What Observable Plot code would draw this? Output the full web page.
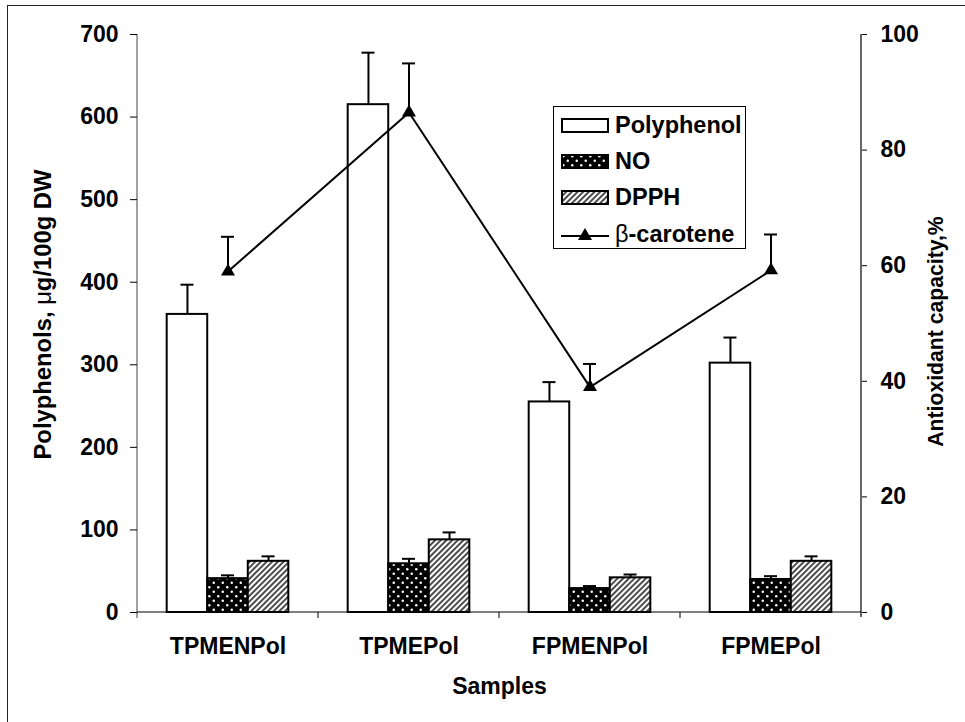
<!DOCTYPE html>
<html>
<head>
<meta charset="utf-8">
<script src="https://cdn.jsdelivr.net/npm/d3@7"></script>
<script src="https://cdn.jsdelivr.net/npm/@observablehq/plot@0.6"></script>
<style>
  body { margin: 0; background: #fff; font-family: "Liberation Sans", Arial, sans-serif; }
  #wrap { position: relative; width: 965px; height: 722px; overflow: hidden; background: #fff; }
  #chart { position: absolute; left: 0; top: 0; }
  #border { position: absolute; left: 7px; top: 5px; width: 2000px; height: 2000px; border: 1.5px solid #222; pointer-events: none; }
  #legend { position: absolute; left: 553px; top: 106px; width: 193px; height: 143px; border: 1.5px solid #000; background: #fff; box-sizing: border-box; padding-top: 0px; }
  .row { display: flex; align-items: center; height: 36.3px; font-weight: bold; font-size: 23.5px; color: #000; }
  .row svg { margin-left: 7px; margin-right: 6px; flex: none; }
  .reg { font-weight: normal; }
</style>
</head>
<body>
<svg width="0" height="0" style="position:absolute">
  <defs>
    <pattern id="dots" width="9" height="9" patternUnits="userSpaceOnUse">
      <rect width="9" height="9" fill="#000"/>
      <circle cx="2.25" cy="2.25" r="1.25" fill="#fff"/>
      <circle cx="6.75" cy="6.75" r="1.25" fill="#fff"/>
    </pattern>
    <pattern id="hatch" width="4" height="4" patternUnits="userSpaceOnUse" patternTransform="rotate(45)">
      <rect width="4" height="4" fill="#fff"/>
      <line x1="1" y1="0" x2="1" y2="4" stroke="#000" stroke-width="1.4"/>
    </pattern>
  </defs>
</svg>
<div id="wrap">
  <div id="chart"></div>
  <div id="border"></div>
  <div id="legend">
    <div class="row"><svg width="48" height="15"><rect x="1" y="1" width="46" height="13" fill="#fff" stroke="#000" stroke-width="2"/></svg>Polyphenol</div>
    <div class="row"><svg width="48" height="15"><rect x="1" y="1" width="46" height="13" fill="url(#dots)" stroke="#000" stroke-width="2"/></svg>NO</div>
    <div class="row"><svg width="48" height="15"><rect x="1" y="1" width="46" height="13" fill="url(#hatch)" stroke="#000" stroke-width="2"/></svg>DPPH</div>
    <div class="row"><svg width="48" height="16"><line x1="0" y1="10" x2="48" y2="10" stroke="#000" stroke-width="2"/><path d="M24,2 L31,14 L17,14 Z" fill="#000"/></svg><span><span class="reg">β</span>-carotene</span></div>
  </div>
</div>
<script>
// ---- data ----
const categories = ["TPMENPol", "TPMEPol", "FPMENPol", "FPMEPol"];
const seriesNames = ["Polyphenol", "NO", "DPPH"];
const polyphenol = [361, 615, 255, 302];
const polyphenolErr = [36, 63, 24, 31];
const no = [41, 59, 29, 40];
const noErr = [4, 6, 3, 4];
const dpph = [62, 88, 42, 62];
const dpphErr = [6, 9, 4, 6];
const betaCarotene = [59, 86.5, 39, 59.2];
const betaCaroteneErr = [6, 8.5, 4, 6.2];
const leftTicks = [0, 100, 200, 300, 400, 500, 600, 700];
const rightTicks = [0, 20, 40, 60, 80, 100];

// ---- layout ----
const W = 965, H = 722, ML = 137, MR = 104, MT = 34, MB = 110;
const k = 700 / 100; // right axis (0-100 %) mapped onto left axis (0-700)
const bw = (W - ML - MR) / categories.length;
const barW = bw * 0.224;
const ins = (bw - barW) / 2;
const capIns = (bw - 13) / 2;

const seriesVals = [polyphenol, no, dpph];
const seriesErr = [polyphenolErr, noErr, dpphErr];
const fills = ["white", "url(#dots)", "url(#hatch)"];

const marks = [];
seriesNames.forEach((s, j) => {
  const rows = categories.map((c, i) => ({cat: c, v: seriesVals[j][i], e: seriesErr[j][i]}));
  const dx = (j - 1) * barW;
  marks.push(Plot.barY(rows, {x: "cat", y: "v", dx, insetLeft: ins, insetRight: ins, fill: fills[j], stroke: "black", strokeWidth: 2}));
  marks.push(Plot.ruleX(rows, {x: "cat", y1: "v", y2: d => d.v + d.e, dx, stroke: "black", strokeWidth: 2}));
  marks.push(Plot.tickY(rows, {x: "cat", y: d => d.v + d.e, dx, insetLeft: capIns, insetRight: capIns, stroke: "black", strokeWidth: 2}));
});

const betaRows = categories.map((c, i) => ({cat: c, v: betaCarotene[i], e: betaCaroteneErr[i]}));

function axisLines(index, scales, values, dims) {
  const g = d3.create("svg:g").attr("stroke", "black").attr("fill", "none");
  const x0 = dims.marginLeft, x1 = dims.width - dims.marginRight;
  const y0 = dims.marginTop, yb = dims.height - dims.marginBottom;
  g.append("line").attr("x1", x0).attr("x2", x0).attr("y1", y0).attr("y2", yb + 6).attr("stroke-width", 1).attr("stroke", "#444");
  g.append("line").attr("x1", x1).attr("x2", x1).attr("y1", y0).attr("y2", yb + 5).attr("stroke-width", 1.2);
  g.append("line").attr("x1", x0).attr("x2", x1).attr("y1", yb).attr("y2", yb).attr("stroke-width", 1.2);
  categories.slice(1).forEach(c => {
    const x = scales.x(c);
    g.append("line").attr("x1", x).attr("x2", x).attr("y1", yb).attr("y2", yb + 6).attr("stroke-width", 1);
  });
  return g.node();
}

const chart = Plot.plot({
  width: W, height: H,
  marginLeft: ML, marginRight: MR, marginTop: MT, marginBottom: MB,
  style: {fontFamily: "'Liberation Sans', Arial, sans-serif", fontSize: "23px", fontWeight: "bold", color: "black", background: "transparent", overflow: "visible"},
  x: {domain: categories, padding: 0},
  y: {domain: [0, 700]},
  marks: [
    axisLines,
    ...marks,
    Plot.line(betaRows, {x: "cat", y: d => d.v * k, stroke: "black", strokeWidth: 2}),
    Plot.ruleX(betaRows, {x: "cat", y1: d => d.v * k, y2: d => (d.v + d.e) * k, stroke: "black", strokeWidth: 2}),
    Plot.tickY(betaRows, {x: "cat", y: d => (d.v + d.e) * k, insetLeft: capIns, insetRight: capIns, stroke: "black", strokeWidth: 2}),
    Plot.dot(betaRows, {x: "cat", y: d => d.v * k, symbol: "triangle", r: 5.2, fill: "black", stroke: "none"}),
    Plot.axisY(leftTicks, {anchor: "left", tickSize: 7, tickPadding: 12, label: "Polyphenols, μg/100g DW", labelAnchor: "center", labelOffset: 103, labelArrow: "none"}),
    Plot.axisY(rightTicks.map(t => t * k), {anchor: "right", tickSize: 5, tickPadding: 14, tickFormat: d => d / k, label: "Antioxidant capacity,%", labelAnchor: "center", labelOffset: 81, labelArrow: "none"}),
    Plot.axisX({tickSize: 0, tickPadding: 25, label: "Samples", labelAnchor: "center", labelOffset: 81, labelArrow: "none"})
  ]
});

document.getElementById("chart").appendChild(chart);

// axis title styling (regular-weight Greek letter, sizes and centring as in the reference)
d3.select(chart).selectAll('g[aria-label="y-axis label"] text').each(function() {
  const t = d3.select(this);
  const s = t.text();
  const m = s.indexOf("μ");
  if (m >= 0) {
    t.style("font-size", "23.8px").attr("dx", 9);
    t.text(null);
    t.append("tspan").text(s.slice(0, m));
    t.append("tspan").style("font-weight", "normal").text("μ");
    t.append("tspan").text(s.slice(m + 1));
  } else {
    t.style("font-size", "21.2px").attr("dx", -8);
  }
});
</script>
</body>
</html>
